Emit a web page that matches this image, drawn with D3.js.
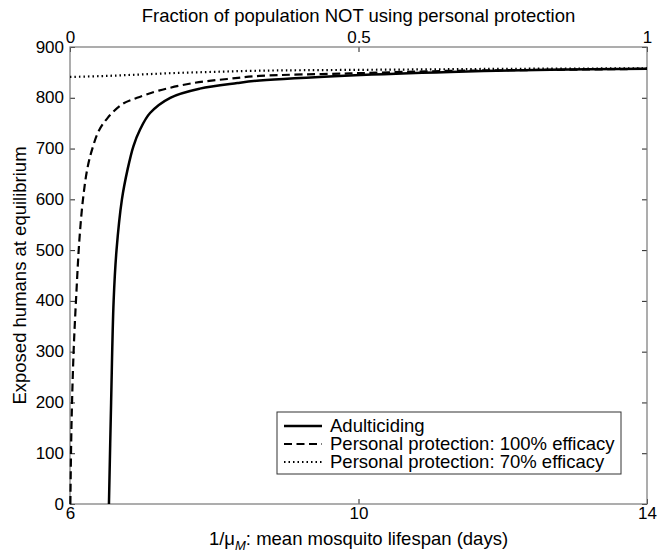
<!DOCTYPE html>
<html>
<head>
<meta charset="utf-8">
<script src="https://cdn.jsdelivr.net/npm/d3@7"></script>
<style>
  body { margin: 0; background: #fff; }
  text { font-family: "Liberation Sans", Arial, Helvetica, sans-serif; fill: #000; }
</style>
</head>
<body>
<div id="chart"></div>
<script>
// Exposed humans at equilibrium vs mean mosquito lifespan

// x values (days) and y values (exposed humans)
var adultX = [6.54, 6.57, 6.605, 6.645, 6.72, 6.80, 6.88, 6.97, 7.11, 7.39, 7.80, 8.32, 8.63, 9.88, 11.27, 12.66, 14];
var adultY = [0, 200, 400, 500, 600, 660, 705, 737, 770, 800, 818, 829, 834, 844, 851, 855, 857];

var pp100X = [6.005, 6.02, 6.05, 6.09, 6.13, 6.18, 6.24, 6.31, 6.40, 6.52, 6.72, 6.93, 7.23, 7.71, 8.18, 8.63, 9.88, 11.27, 12.66, 14];
var pp100Y = [0, 150, 300, 420, 520, 600, 660, 700, 735, 760, 787, 800, 814, 829, 837, 843, 848, 853, 855, 857];

var pp70X = [6, 6.5, 7, 7.5, 8, 8.5, 9, 10, 11, 12, 14];
var pp70Y = [841, 843, 846, 849, 851, 853, 854, 855, 856, 857, 858];

var seriesNames = ["Adulticiding", "Personal protection: 100% efficacy", "Personal protection: 70% efficacy"];
var xTicks = [6, 10, 14];
var yTicks = [0, 100, 200, 300, 400, 500, 600, 700, 800, 900];
var topTicks = [0, 0.5, 1];

var width = 659, height = 554;
var plotL = 70, plotR = 647, plotT = 47, plotB = 504;

var svg = d3.select("#chart").append("svg")
    .attr("width", width)
    .attr("height", height);

var x = d3.scaleLinear().domain([6, 14]).range([plotL, plotR]);
var y = d3.scaleLinear().domain([0, 900]).range([plotB, plotT]);
var xTop = d3.scaleLinear().domain([0, 1]).range([plotL, plotR]);

// axes, ticks pointing inward like matlab
var tickFont = "17px";
var bottomAxis = svg.append("g")
    .attr("transform", "translate(0," + plotB + ")")
    .call(d3.axisBottom(x).tickValues(xTicks).tickFormat(d3.format("d"))
        .tickSizeInner(-5).tickSizeOuter(0).tickPadding(3));
var topAxis = svg.append("g")
    .attr("transform", "translate(0," + plotT + ")")
    .call(d3.axisTop(xTop).tickValues(topTicks).tickFormat(function(d) { return d; })
        .tickSizeInner(-5).tickSizeOuter(0).tickPadding(4));
var leftAxis = svg.append("g")
    .attr("transform", "translate(" + plotL + ",0)")
    .call(d3.axisLeft(y).tickValues(yTicks).tickFormat(d3.format("d"))
        .tickSizeInner(-5).tickSizeOuter(0).tickPadding(6));
var rightAxis = svg.append("g")
    .attr("transform", "translate(" + plotR + ",0)")
    .call(d3.axisRight(y).tickValues(yTicks).tickFormat("")
        .tickSizeInner(-5).tickSizeOuter(0));

[bottomAxis, topAxis, leftAxis, rightAxis].forEach(function(a) {
    a.select(".domain").remove();
    a.selectAll("line").attr("stroke", "#222");
    a.selectAll("text").style("font-size", tickFont).attr("fill", "#000");
});
leftAxis.selectAll("text").attr("dy", "0.3em");

// frame
svg.append("rect")
    .attr("x", plotL).attr("y", plotT)
    .attr("width", plotR - plotL).attr("height", plotB - plotT)
    .attr("fill", "none")
    .attr("stroke", "#777")
    .attr("stroke-width", 1.2);

// lines
var line = d3.line()
    .x(function(d) { return x(d[0]); })
    .y(function(d) { return y(d[1]); })
    .curve(d3.curveCatmullRom.alpha(0.5));

function pairs(xs, ys) {
    return xs.map(function(v, i) { return [v, ys[i]]; });
}

var styles = [
    { dash: null, w: 2.5 },
    { dash: "8,4.5", w: 2.2 },
    { dash: "1.5,3", w: 2.2 }
];
var allData = [pairs(adultX, adultY), pairs(pp100X, pp100Y), pairs(pp70X, pp70Y)];

for (let i = allData.length - 1; i >= 0; i--) {
    svg.append("path")
        .attr("d", line(allData[i]))
        .attr("fill", "none")
        .attr("stroke", "#000")
        .attr("stroke-width", styles[i].w)
        .attr("stroke-dasharray", styles[i].dash);
}

// axis titles
svg.append("text")
    .attr("x", (plotL + plotR) / 2)
    .attr("y", 22)
    .attr("text-anchor", "middle")
    .style("font-size", "18.5px")
    .text("Fraction of population NOT using personal protection");

var xl = svg.append("text")
    .attr("x", (plotL + plotR) / 2)
    .attr("y", 545)
    .attr("text-anchor", "middle")
    .style("font-size", "18.5px");
xl.append("tspan").text("1/\u03bc");
xl.append("tspan").attr("dy", 5).style("font-size", "13px").style("font-style", "italic").text("M");
xl.append("tspan").attr("dy", -5).text(": mean mosquito lifespan (days)");

svg.append("text")
    .attr("transform", "translate(26," + ((plotT + plotB) / 2) + ") rotate(-90)")
    .attr("text-anchor", "middle")
    .style("font-size", "18.5px")
    .text("Exposed humans at equilibrium");

// legend
var lgRight = 621, lgBottom = 474, rowH = 18, lgTextX = 330;
var lgTop = lgBottom - rowH * 3 - 8;
var lgLeft = 277;
svg.append("rect")
    .attr("x", lgLeft).attr("y", lgTop)
    .attr("width", lgRight - lgLeft).attr("height", lgBottom - lgTop)
    .attr("fill", "#fff")
    .attr("stroke", "#333")
    .attr("stroke-width", 1);

for (let i = 0; i < seriesNames.length; i++) {
    let cy = lgTop + 4 + rowH * i + rowH / 2 + 1;
    svg.append("line")
        .attr("x1", lgLeft + 7).attr("x2", lgTextX - 8)
        .attr("y1", cy).attr("y2", cy)
        .attr("stroke", "#000")
        .attr("stroke-width", styles[i].w)
        .attr("stroke-dasharray", styles[i].dash);
    svg.append("text")
        .attr("x", lgTextX)
        .attr("y", cy)
        .attr("dy", "0.35em")
        .style("font-size", "18.5px")
        .text(seriesNames[i]);
}
</script>
</body>
</html>
